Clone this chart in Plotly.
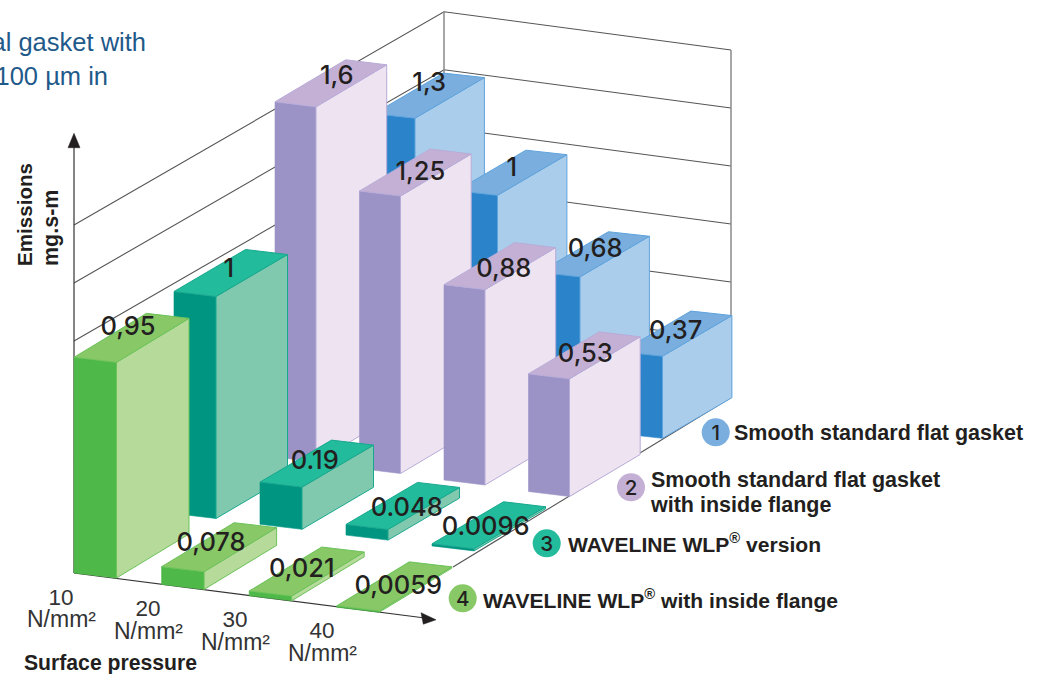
import numpy as np
import plotly.graph_objects as go

# ---------- data ----------
pressure_values = ["10", "20", "30", "40"]
pressure_unit = "N/mm²"
series_names = ["Smooth standard flat gasket", "Smooth standard flat gasket", "WAVELINE WLP<sup>®</sup> version", "WAVELINE WLP<sup>®</sup> with inside flange"]
smooth_values = [1.3, 1.0, 0.68, 0.37]
smooth_flange_values = [1.6, 1.25, 0.88, 0.53]
wlp_values = [1.0, 0.19, 0.048, 0.0096]
wlp_flange_values = [0.95, 0.078, 0.021, 0.0059]
smooth_labels = ["1,3", "1", "0,68", "0,37"]
smooth_flange_labels = ["1,6", "1,25", "0,88", "0,53"]
wlp_labels = ["1", "0.19", "0.048", "0.0096"]
wlp_flange_labels = ["0,95", "0,078", "0,021", "0,0059"]

INK = "#231f20"
FONT = "Liberation Sans, Arial, sans-serif"
LABEL_FONT = "Inter, Liberation Sans, sans-serif"
TEXT_DY = 2.5  # vertical centring correction for text traces

# ---------- oblique projection: one floor row per series ----------
ROWS = [
    dict(vals=smooth_values, labels=smooth_labels, o=(374, 402.3), step=(82.5, 10.5), w=(41, 4.5), d=(69.4, -40.6), k=222,
         front="#2b84c9", side="#abcdec", top="#79aede", edge="#5fa3dd",
         off=[(0, -13.5), (0, -6), (1, -6), (-1, -3)]),
    dict(vals=smooth_flange_values, labels=smooth_flange_labels, o=(275, 457), step=(84.5, 11.5), w=(41, 5), d=(70.7, -42), k=222,
         front="#9b93c6", side="#eee3f0", top="#c5b0d5", edge="#b8acd9",
         off=[(6, -8), (5, -1.5), (4, 2), (1, -2)]),
    dict(vals=wlp_values, labels=wlp_labels, o=(174, 513.5), step=(86, 10.8), w=(42, 5), d=(71.5, -42), k=222,
         front="#009581", side="#80c9ae", top="#22bb9b", edge="#19a88f",
         off=[(-2, -5), (-2, -3), (4, 1), (-3, 1)]),
    dict(vals=wlp_flange_values, labels=wlp_flange_labels, o=(74, 573), step=(87.6, 11.4), w=(42.5, 5), d=(72.5, -44), k=227,
         front="#4eb848", side="#b5da9a", top="#88c867", edge="#6cc35a",
         off=[(-3.5, -12), (-8, -5), (-5, -3.5), (4, -1.5)]),
]

fig = go.Figure()


def poly(pts, fill, edge, width=1.0, name=""):
    pts = np.array(list(pts) + [pts[0]])
    fig.add_trace(go.Scatter(x=pts[:, 0], y=pts[:, 1], mode="lines", fill="toself", fillcolor=fill,
                             line=dict(color=edge, width=width), name=name, hoverinfo="skip"))


def line(xs, ys, color, width=1.0):
    fig.add_trace(go.Scatter(x=xs, y=ys, mode="lines", line=dict(color=color, width=width), hoverinfo="skip"))


def text(xs, ys, strs, size, color=INK, weight=400, pos="middle center", family=FONT):
    fig.add_trace(go.Scatter(x=xs, y=[y + TEXT_DY for y in ys], mode="text", text=strs, textposition=pos, hoverinfo="skip",
                             textfont=dict(size=size, color=color, family=family, weight=weight)))


# ---------- walls ----------
WALL_STEPS = range(6)
for n in WALL_STEPS:
    line([74, 444, 731], [225 + 58 * n, 11.7 + 58 * n, 50 + 58 * n], "#555555", 1.1)
line([444, 444], [11.7, 360], "#8a8a8a", 1.5)
line([731, 731], [50, 398], "#8a8a8a", 1.5)
line([453, 731], [567, 397.5], "#555555", 1.1)

# ---------- axes ----------
line([74, 74], [573, 145], "#333333", 1.2)
poly([(74, 133.3), (68, 147.7), (80, 147.7)], INK, INK, 0.5)
line([74, 425], [573, 618], "#333333", 1.2)
poly([(436, 619.8), (421, 612.7), (423.3, 624.2)], INK, INK, 0.5)

# ---------- bars ----------
label_x, label_y, label_s = [], [], []
for row in ROWS:
    o, st, w, d = map(np.array, (row["o"], row["step"], row["w"], row["d"]))
    for c, v in enumerate(row["vals"]):
        base = o + c * st
        up = np.array([0, -v * row["k"]])
        a, b = base, base + w
        e = row["edge"]
        poly([a + up, b + up, b, a], row["front"], row["front"], 0.6)
        poly([b + up, b + d + up, b + d, b], row["side"], e)
        poly([a + up, b + up, b + d + up, a + d + up], row["top"], e)
        mid = a + up + (w + d) / 2 + np.array(row["off"][c])
        label_x.append(mid[0])
        label_y.append(mid[1])
        label_s.append(row["labels"][c])
text(label_x, label_y, label_s, 25.5, weight=500, family=LABEL_FONT)

# ---------- category labels ----------
cat_x = [61 + 87 * i for i in range(len(pressure_values))]
text(cat_x, [597 + 11 * i for i in range(4)], pressure_values, 22.5, "#333333")
text([x + 0.5 for x in cat_x], [619 + 11.4 * i for i in range(4)], [pressure_unit] * 4, 23, "#333333")
text([110.5], [662.5], ["Surface pressure"], 21.2, weight=700)

# ---------- legend ----------
leg_cx = [715.7, 631, 546.7, 462.7]
leg_cy = [432.3, 487.3, 543.3, 598.3]
fig.add_trace(go.Scatter(x=leg_cx, y=leg_cy, mode="markers", hoverinfo="skip",
                         marker=dict(size=28, color=[r["top"] for r in ROWS], line=dict(width=0))))
text(leg_cx, leg_cy, ["1", "2", "3", "4"], 20.5, weight=500, family=LABEL_FONT)
LEG = 21.5
LEG_WLP = 21.1
text([734], [432], [series_names[0]], LEG, weight=700, pos="middle right")
text([651], [479.5], [series_names[1]], LEG, weight=700, pos="middle right")
text([651], [504.5], ["with inside flange"], LEG, weight=700, pos="middle right")
text([568], [544], [series_names[2]], LEG_WLP, weight=700, pos="middle right")
text([483], [600], [series_names[3]], LEG_WLP, weight=700, pos="middle right")

# ---------- headline fragment ----------
text([146], [42], ["al gasket with"], 25.5, "#1f5a8a", pos="middle left")
text([108], [76], ["100 µm in"], 25.5, "#1f5a8a", pos="middle left")

anns = [
    dict(x=24, y=215, text="Emissions", textangle=-90, showarrow=False, xref="x", yref="y",
         font=dict(size=20.6, color=INK, family=FONT, weight=700)),
    dict(x=51, y=228, text="mg.s-m", textangle=-90, showarrow=False, xref="x", yref="y",
         font=dict(size=21.5, color=INK, family=FONT, weight=700)),
]

fig.update_layout(
    width=1040, height=674, margin=dict(l=0, r=0, t=0, b=0),
    paper_bgcolor="white", plot_bgcolor="white", showlegend=False, annotations=anns,
    xaxis=dict(range=[0, 1040], visible=False, fixedrange=True),
    yaxis=dict(range=[674, 0], visible=False, fixedrange=True),
)
fig.write_html("out.html", config={"displayModeBar": False},
               post_script="document.body.style.margin='0';document.body.style.overflow='hidden';")
